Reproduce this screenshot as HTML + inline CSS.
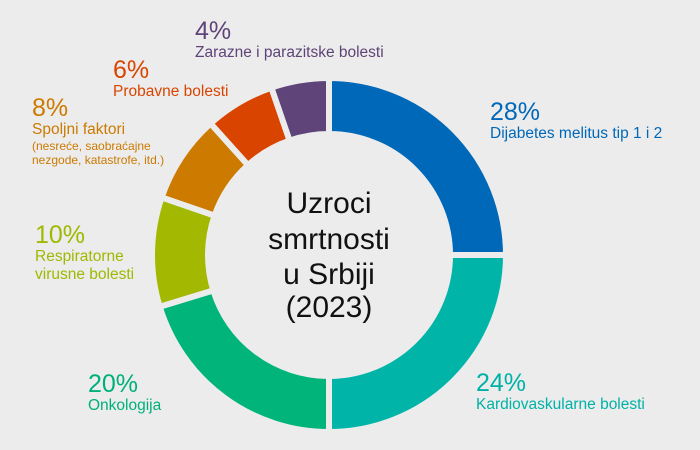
<!DOCTYPE html>
<html><head><meta charset="utf-8"><style>
html,body{margin:0;padding:0;background:#ececec;}
svg{display:block;font-family:"Liberation Sans",sans-serif;}
</style></head><body>
<svg width="700" height="450" viewBox="0 0 700 450">
<rect width="700" height="450" fill="#ececec"/>
<g id="d" stroke="#ececec" stroke-width="6"></g>
<g text-anchor="middle" font-size="30" fill="#111">
<text x="329" y="213">Uzroci</text>
<text x="329" y="249">smrtnosti</text>
<text x="329" y="284">u Srbiji</text>
<text x="329" y="317">(2023)</text>
</g>
<g fill="#0068b8"><text x="490" y="120" font-size="25">28%</text><text x="490" y="138" font-size="15.5">Dijabetes melitus tip 1 i 2</text></g>
<g fill="#00b2a6"><text x="476" y="391" font-size="25">24%</text><text x="476" y="409" font-size="15.5">Kardiovaskularne bolesti</text></g>
<g fill="#00b07a"><text x="88" y="392" font-size="25">20%</text><text x="88" y="410" font-size="15.5">Onkologija</text></g>
<g fill="#a0b800"><text x="35" y="243" font-size="25">10%</text><text x="35" y="261" font-size="15.5">Respiratorne</text><text x="35" y="279" font-size="15.5">virusne bolesti</text></g>
<g fill="#cc7a00"><text x="32" y="116" font-size="25">8%</text><text x="32" y="134" font-size="15.5">Spoljni faktori</text><text x="32" y="150" font-size="12">(nesreće, saobraćajne</text><text x="32" y="164" font-size="12">nezgode, katastrofe, itd.)</text></g>
<g fill="#d94500"><text x="113" y="78" font-size="25">6%</text><text x="113" y="96" font-size="15.5">Probavne bolesti</text></g>
<g fill="#5e4478"><text x="195" y="39" font-size="25">4%</text><text x="195" y="57" font-size="15.5">Zarazne i parazitske bolesti</text></g>
</svg>
<script>
var cx=329,cy=255,R=177,r=121;
var segs=[[0,90,"#0068b8"],[90,180,"#00b5a8"],[180,253,"#00b47a"],[253,289,"#a3b800"],[289,318,"#cc7a00"],[318,341,"#d94500"],[341,360,"#5e4478"]];
function p(a,rad){a=a*Math.PI/180;return [cx+rad*Math.sin(a),cy-rad*Math.cos(a)];}
var g=document.getElementById("d"),h="";
segs.forEach(function(s){var a=p(s[0],R),b=p(s[1],R),c=p(s[1],r),d=p(s[0],r),l=(s[1]-s[0])>180?1:0;
h+='<path fill="'+s[2]+'" d="M'+a+' A'+R+' '+R+' 0 '+l+' 1 '+b+' L'+c+' A'+r+' '+r+' 0 '+l+' 0 '+d+' Z"/>';});
g.innerHTML=h;
</script>
</body></html>
